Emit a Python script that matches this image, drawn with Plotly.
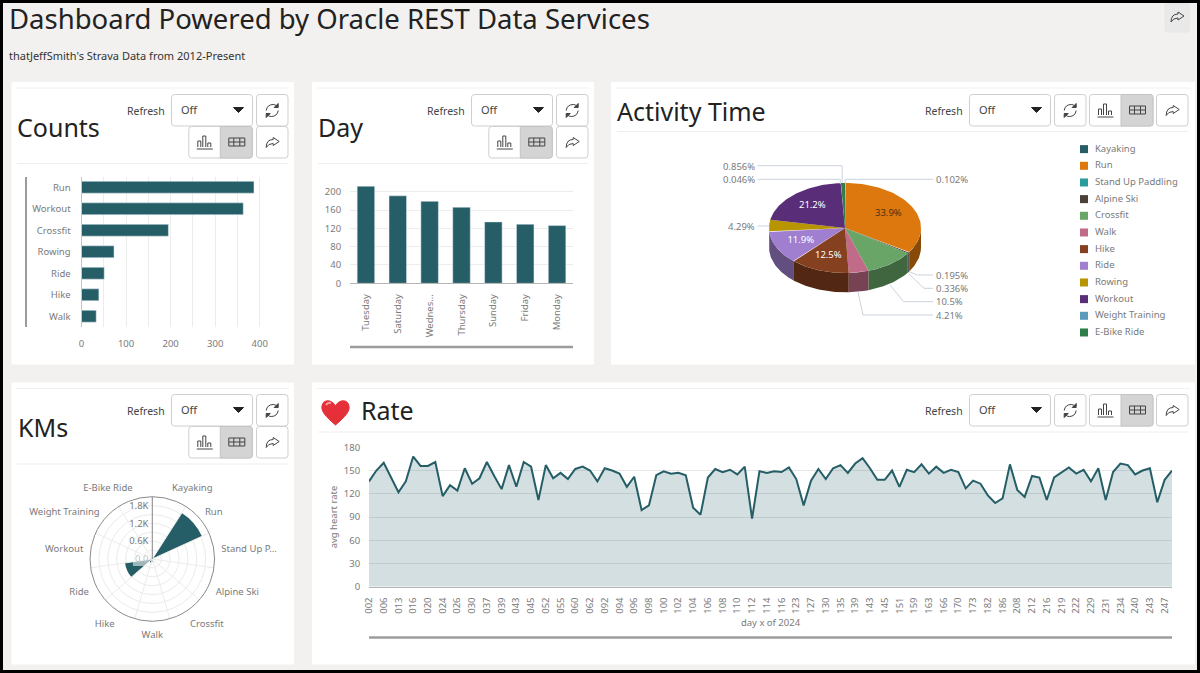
import numpy as np
import plotly.graph_objects as go

FONT = "Noto Sans"
TEAL = "#255e66"
GREY = "#7a7a7a"

# counts per activity
count_cats = ["Run", "Workout", "Crossfit", "Rowing", "Ride", "Hike", "Walk"]
count_vals = [387, 363, 195, 73, 51, 39, 33]

# activities per weekday
day_cats = ["Tuesday", "Saturday", "Wednes...", "Thursday", "Sunday", "Friday", "Monday"]
day_vals = [212, 191, 179, 166, 134, 129, 126]

# activity time share
pie_names = ["Kayaking", "Run", "Stand Up Paddling", "Alpine Ski", "Crossfit", "Walk", "Hike",
             "Ride", "Rowing", "Workout", "Weight Training", "E-Bike Ride"]
pie_pct = [0.102, 33.9, 0.195, 0.336, 10.5, 4.21, 12.5, 11.9, 4.29, 21.2, 0.046, 0.856]
pie_colors = ["#255e66", "#dc780d", "#2b9c9c", "#4d4036", "#68a567", "#c06c88", "#85401f",
              "#a07fd0", "#b89500", "#5a2d78", "#5a9abb", "#2e7d4a"]

# kms per activity
km_names = ["Kayaking", "Run", "Stand Up P...", "Alpine Ski", "Crossfit", "Walk", "Hike",
            "Ride", "Workout", "Weight Training", "E-Bike Ride"]
km_vals = [30, 1840, 15, 40, 10, 90, 130, 930, 20, 5, 45]

# heart rate per day of 2024
rate_days = ["002", "004", "006", "010", "013", "015", "016", "018", "020", "022", "024", "025",
             "026", "028", "030", "034", "037", "038", "039", "041", "043", "044", "045", "050",
             "052", "054", "055", "058", "060", "061", "062", "064", "092", "093", "094", "095",
             "096", "097", "098", "099", "100", "101", "102", "103", "104", "105", "106", "107",
             "108", "109", "110", "111", "112", "113", "114", "115", "116", "118", "123", "125",
             "127", "128", "130", "132", "135", "137", "139", "141", "143", "144", "145", "148",
             "151", "155", "159", "161", "163", "165", "166", "168", "170", "171", "173", "178",
             "182", "184", "186", "197", "208", "210", "212", "214", "216", "217", "219", "220",
             "222", "225", "229", "230", "231", "232", "234", "237", "240", "241", "243", "245",
             "247", "248"]
rate_vals = [136, 150, 160, 142, 122, 136, 168, 156, 156, 161, 117, 131, 124, 153, 133, 140, 161,
             143, 126, 157, 129, 161, 155, 112, 157, 140, 147, 139, 152, 155, 150, 136, 153, 150,
             146, 129, 142, 99, 105, 144, 149, 146, 147, 144, 102, 93, 141, 152, 148, 151, 145,
             155, 88, 149, 147, 149, 148, 154, 139, 105, 137, 152, 139, 153, 157, 147, 159, 166,
             153, 138, 138, 150, 129, 151, 148, 158, 146, 155, 147, 151, 148, 127, 137, 133, 118,
             108, 114, 158, 125, 116, 143, 141, 112, 141, 148, 154, 146, 151, 136, 153, 112, 148,
             159, 157, 145, 150, 153, 109, 138, 150]


def dom_x(x0, x1):
    return [x0 / 1200, x1 / 1200]


def dom_y(y0, y1):
    return [1 - y1 / 673, 1 - y0 / 673]


def darken(c, f=0.62):
    r, g, b = int(c[1:3], 16), int(c[3:5], 16), int(c[5:7], 16)
    return f"rgb({int(r * f)},{int(g * f)},{int(b * f)})"


fig = go.Figure()

# counts
fig.add_trace(go.Bar(x=count_vals, y=count_cats, orientation="h", marker_color=TEAL,
                     xaxis="x", yaxis="y", hoverinfo="skip"))
# day
fig.add_trace(go.Bar(x=day_cats, y=day_vals, marker_color=TEAL, xaxis="x2", yaxis="y2", hoverinfo="skip"))
# rate
fig.add_trace(go.Scatter(x=rate_days, y=rate_vals, mode="lines", line=dict(color=TEAL, width=2),
                         fill="tozeroy", fillcolor="rgba(37,94,102,0.2)", xaxis="x3", yaxis="y3",
                         hoverinfo="skip"))

# pie is drawn on its own axes, one unit = rx / ry of the ellipse
PIE_CX, PIE_CY, PIE_RX, PIE_RY, PIE_DEPTH = 845, 228, 76, 45, 0.43
edges = np.cumsum([0] + pie_pct) / sum(pie_pct) * 2 * np.pi

for i, c in enumerate(pie_colors):
    lo, hi = max(edges[i], np.pi / 2), min(edges[i + 1], 3 * np.pi / 2)
    if hi <= lo:
        continue
    a = np.linspace(lo, hi, 40)
    fig.add_trace(go.Scatter(x=np.r_[np.sin(a), np.sin(a[::-1])],
                             y=np.r_[np.cos(a), np.cos(a[::-1]) - PIE_DEPTH],
                             mode="lines", line=dict(width=0), fill="toself", fillcolor=darken(c),
                             xaxis="x4", yaxis="y4", hoverinfo="skip"))
for i, c in enumerate(pie_colors):
    a = np.linspace(edges[i], edges[i + 1], 60)
    fig.add_trace(go.Scatter(x=np.r_[0, np.sin(a), 0], y=np.r_[0, np.cos(a), 0],
                             mode="lines", line=dict(width=0), fill="toself", fillcolor=c,
                             xaxis="x4", yaxis="y4", hoverinfo="skip"))

inside = [i for i, p in enumerate(pie_pct) if p > 11]
mids = (edges[:-1] + edges[1:]) / 2
fig.add_trace(go.Scatter(x=[0.65 * np.sin(mids[i]) for i in inside],
                         y=[0.65 * np.cos(mids[i]) for i in inside],
                         text=[f"{pie_pct[i]:.3g}%" for i in inside],
                         mode="text", textfont=dict(family=FONT, size=9.5,
                         color=["#4a3210" if pie_names[i] == "Run" else "#ffffff" for i in inside]),
                         xaxis="x4", yaxis="y4", hoverinfo="skip"))

# legend of the pie
fig.add_trace(go.Scatter(x=[0] * len(pie_names), y=pie_names, text=["  " + n for n in pie_names],
                         mode="markers+text", textposition="middle right",
                         marker=dict(symbol="square", size=8, color=pie_colors),
                         textfont=dict(family=FONT, size=9.5, color=GREY), cliponaxis=False,
                         xaxis="x5", yaxis="y5", hoverinfo="skip"))

# kms
step = 360 / len(km_names)
km_theta = [step * (i + 0.5) for i in range(len(km_names))]
for i in range(len(km_names)):
    fig.add_trace(go.Scatterpolar(r=[0, 2100], theta=[step * i, step * i], mode="lines",
                                  line=dict(color="#ebebeb", width=1), hoverinfo="skip"))
fig.add_trace(go.Barpolar(r=km_vals, theta=km_theta, width=[step] * len(km_names),
                          marker_color=TEAL, marker_line_width=0, hoverinfo="skip"))

shapes = []
annots = []


def txt(x, y, s, size=9.5, color=GREY, anchor="left"):
    annots.append(dict(x=x, y=y, xref="x9", yref="y9", text=s, showarrow=False, xanchor=anchor,
                       yanchor="middle", borderpad=0, borderwidth=0,
                       font=dict(family=FONT, size=size, color=color)))


def path(d, line="#555555", fill="rgba(0,0,0,0)", width=1):
    shapes.append(dict(type="path", xref="x9", yref="y9", path=d, fillcolor=fill,
                       line=dict(color=line, width=width), layer="above"))


def rrect(x0, y0, x1, y1, r=3):
    return (f"M{x0+r},{y0} L{x1-r},{y0} Q{x1},{y0} {x1},{y0+r} L{x1},{y1-r} Q{x1},{y1} {x1-r},{y1} "
            f"L{x0+r},{y1} Q{x0},{y1} {x0},{y1-r} L{x0},{y0+r} Q{x0},{y0} {x0+r},{y0} Z")


def refresh_icon(cx, cy):
    path(f"M{cx-6},{cy} Q{cx-5},{cy-6} {cx+1},{cy-6} Q{cx+4},{cy-6} {cx+5},{cy-4}", line="#444444")
    path(f"M{cx+6},{cy-7} L{cx+6},{cy-3} L{cx+2},{cy-3} Z", line="#444444", fill="#444444")
    path(f"M{cx+6},{cy} Q{cx+5},{cy+6} {cx-1},{cy+6} Q{cx-4},{cy+6} {cx-5},{cy+4}", line="#444444")
    path(f"M{cx-6},{cy+7} L{cx-6},{cy+3} L{cx-2},{cy+3} Z", line="#444444", fill="#444444")


def share_icon(cx, cy):
    path(f"M{cx+1},{cy-5} L{cx+7},{cy-1} L{cx+1},{cy+3} L{cx+1},{cy+1} Q{cx-4},{cy+1} {cx-6},{cy+5} "
         f"Q{cx-6},{cy-3} {cx+1},{cy-3} Z", line="#444444")


def bars_icon(cx, cy):
    path(f"M{cx-8},{cy+7} L{cx+8},{cy+7} M{cx-7},{cy+5} L{cx-7},{cy-1} L{cx-4},{cy-1} L{cx-4},{cy+5} "
         f"M{cx-2},{cy+5} L{cx-2},{cy-6} L{cx+1},{cy-6} L{cx+1},{cy+5} "
         f"M{cx+3},{cy+5} L{cx+3},{cy+1} L{cx+6},{cy+1} L{cx+6},{cy+5}", line="#444444")


def table_icon(cx, cy):
    path(f"M{cx-8},{cy-4} L{cx+8},{cy-4} L{cx+8},{cy+4} L{cx-8},{cy+4} Z M{cx-8},{cy} L{cx+8},{cy} "
         f"M{cx-3},{cy-4} L{cx-3},{cy+4} M{cx+3},{cy-4} L{cx+3},{cy+4}", line="#444444")


def select_box(x, y):
    # x is the left side of the "Off" select, y its top
    txt(x - 6.5, y + 16, "Refresh", size=10.5, color="#444444", anchor="right")
    path(rrect(x, y, x + 81, y + 31.5), line="#cfcfcf", fill="#ffffff")
    txt(x + 9, y + 15, "Off", size=11, color="#444444")
    path(f"M{x+62},{y+13} L{x+72},{y+13} L{x+67},{y+18} Z", line="#222222", fill="#222222")
    path(rrect(x + 85, y, x + 116.5, y + 31.5), line="#cfcfcf", fill="#ffffff")
    refresh_icon(x + 100.7, y + 16)


def toggle_group(x, y, xshare):
    # x is the left side of the group, y its top
    path(rrect(x, y, x + 63.5, y + 31.5), line="#cfcfcf", fill="#ffffff")
    path(f"M{x+31.5},{y} L{x+61},{y} Q{x+63.5},{y} {x+63.5},{y+3} L{x+63.5},{y+29} Q{x+63.5},{y+31.5} {x+61},{y+31.5} "
         f"L{x+31.5},{y+31.5} Z", line="#c4c4c4", fill="#d4d4d4")
    bars_icon(x + 16, y + 15.5)
    table_icon(x + 48, y + 15.5)
    path(rrect(xshare, y, xshare + 31.5, y + 31.5), line="#cfcfcf", fill="#ffffff")
    share_icon(xshare + 15.7, y + 16)


# page border and panels
panels = [(11.5, 82, 294, 364.5), (312, 82, 594, 364.5), (611, 82, 1195, 364.5),
          (11.5, 382.5, 294, 664.5), (312, 382.5, 1195, 664.5)]
for x0, y0, x1, y1 in panels:
    shapes.append(dict(type="rect", xref="paper", yref="paper", x0=x0 / 1200, x1=x1 / 1200,
                       y0=1 - y0 / 673, y1=1 - y1 / 673, fillcolor="#ffffff", line_width=0, layer="below"))
    shapes.append(dict(type="line", xref="paper", yref="paper", x0=(x0 + 5) / 1200, x1=(x1 - 5) / 1200,
                       y0=1 - (y0 + 6) / 673, y1=1 - (y0 + 6) / 673, line=dict(color="#f0f0f0", width=1), layer="below"))

for x0, x1, y in [(17, 288, 163.5), (318, 588, 163.5), (617, 1188, 131.5), (17, 288, 464), (318, 1188, 432)]:
    path(f"M{x0},{y} L{x1},{y}", line="#efefef")

# titles
txt(9, 18, "Dashboard Powered by Oracle REST Data Services", size=27.5, color="#222222")
txt(9, 55, "thatJeffSmith's Strava Data from 2012-Present", size=11, color="#333333")
txt(17, 127, "Counts", size=25, color="#222222")
txt(318, 127, "Day", size=25, color="#222222")
txt(617, 111, "Activity Time", size=25, color="#222222")
txt(18, 427, "KMs", size=25, color="#222222")
txt(361, 410, "Rate", size=25, color="#222222")

# heart
path("M335.5,425 C325,416 321,411 322,406 C323,399 332,399 335.5,406 C339,399 348,399 349,406 "
     "C350,411 346,416 335.5,425 Z", line="#e5303a", fill="#e5303a")
path("M326,405 Q328,402 331,403", line="#f7a0a0", width=2)

# header controls
select_box(171.5, 94.5)
toggle_group(188.8, 126.5, 256.5)
select_box(471.5, 94.5)
toggle_group(488.8, 126.5, 556.5)
select_box(969.5, 94.5)
toggle_group(1089.5, 94.5, 1156.5)
select_box(171.5, 394.5)
toggle_group(188.8, 426.5, 256.5)
select_box(969.5, 394.5)
toggle_group(1089.5, 394.5, 1156.5)

# button top right
path(rrect(1165, 3, 1189, 32, 2), line="#e6e6e6", fill="#e9e9e9")
share_icon(1177, 17)

# scroll bars of the charts
path("M26,177 L26,327", line="#9c9c9c", width=2)
path("M350,347 L573,347", line="#9c9c9c", width=2.5)
path("M369,637.5 L1172,637.5", line="#9c9c9c", width=2.5)

# pie leader lines and outer labels
leaders = ["M757.5,165.7 L842.2,165.7 L842.2,183", "M757.5,179.3 L840.3,179.3 L840.3,184",
           "M933,179.3 L845.2,179.3 L845.2,183", "M757.5,226 L769,226",
           "M933,275 L917,275 L909,271.5", "M933,288.3 L924,288.3 L909,274",
           "M933,301.7 L903.6,301.7 L890,285", "M933,315 L863,315 L858,292"]
for d in leaders:
    path(d, line="#ccd2dc")
for name, x, y, a in [("E-Bike Ride", 755, 166, "right"), ("Weight Training", 755, 179.5, "right"),
                      ("Rowing", 755, 226.5, "right"), ("Kayaking", 935.5, 179.5, "left"),
                      ("Stand Up Paddling", 935.5, 275, "left"), ("Alpine Ski", 935.5, 288.5, "left"),
                      ("Crossfit", 935.5, 301.5, "left"), ("Walk", 935.5, 315, "left")]:
    txt(x, y, f"{pie_pct[pie_names.index(name)]:.3g}%", anchor=a)

# label background over the polar bars
shapes.append(dict(type="rect", xref="x9", yref="y9", x0=133, x1=150, y0=555, y1=566,
                   fillcolor="rgba(255,255,255,0.55)", line_width=0, layer="above"))

tickfont = dict(family=FONT, size=9.5, color=GREY)
pie_x = [(611 - PIE_CX) / PIE_RX, (1000 - PIE_CX) / PIE_RX]
pie_y = [(PIE_CY - 360) / PIE_RY, (PIE_CY - 140) / PIE_RY]
hidden = dict(visible=False, showgrid=False, zeroline=False, fixedrange=True)

fig.update_layout(
    width=1200, height=673, margin=dict(l=0, r=0, t=0, b=0, pad=0, autoexpand=False), showlegend=False,
    paper_bgcolor="#f2f1ef", plot_bgcolor="rgba(0,0,0,0)", font=dict(family=FONT),
    bargap=0.45,
    shapes=shapes, annotations=annots,
    xaxis=dict(domain=dom_x(81.5, 270), range=[0, 423], anchor="y", dtick=100, tickfont=tickfont,
               showgrid=True, gridcolor="#ececec", zeroline=False, ticks="outside", ticklen=8,
               tickcolor="rgba(0,0,0,0)", minor=dict(dtick=50, showgrid=True, gridcolor="#ececec")),
    yaxis=dict(domain=dom_y(176.5, 327), autorange="reversed", anchor="x", tickfont=tickfont, showline=True,
               linecolor="#c4c4c4", ticks="outside", ticklen=8, tickcolor="rgba(0,0,0,0)"),
    xaxis2=dict(domain=dom_x(350, 573), anchor="y2", tickfont=tickfont, tickangle=-90, showline=True,
                linecolor="#b5b5b5", ticks="outside", ticklen=6, tickcolor="rgba(0,0,0,0)"),
    yaxis2=dict(domain=dom_y(180, 283.3), range=[0, 225.5], anchor="x2", dtick=40, tickfont=tickfont,
                gridcolor="#ececec", zeroline=False, ticks="outside", ticklen=6, tickcolor="rgba(0,0,0,0)"),
    xaxis3=dict(domain=dom_x(369, 1172), anchor="y3", tickmode="array", tickvals=rate_days[::2], range=[0, 109],
                tickfont=tickfont, tickangle=-90, showline=True, linecolor="#b5b5b5", ticks="outside", ticklen=6,
                tickcolor="rgba(0,0,0,0)", title=dict(text="day x of 2024", font=tickfont, standoff=6)),
    yaxis3=dict(domain=dom_y(447.3, 586.7), range=[0, 180], anchor="x3", dtick=30, tickfont=tickfont,
                gridcolor="#e6e6e6", zeroline=False, ticks="outside", ticklen=6, tickcolor="rgba(0,0,0,0)",
                title=dict(text="avg heart rate", font=tickfont, standoff=4)),
    xaxis4=dict(domain=dom_x(611, 1000), range=pie_x, anchor="y4", **hidden),
    yaxis4=dict(domain=dom_y(140, 360), range=pie_y, anchor="x4", **hidden),
    xaxis5=dict(domain=dom_x(1084, 1190), range=[0, 1], anchor="y5", **hidden),
    yaxis5=dict(domain=dom_y(140.8, 340.8), range=[11.5, -0.5], anchor="x5", type="category", **hidden),
    xaxis9=dict(domain=[0, 1], range=[0, 1200], anchor="y9", **hidden),
    yaxis9=dict(domain=[0, 1], range=[673, 0], anchor="x9", **hidden),
    polar=dict(
        domain=dict(x=dom_x(90, 214.6), y=dom_y(496.7, 621.3)), bgcolor="rgba(0,0,0,0)",
        angularaxis=dict(direction="clockwise", rotation=90, tickmode="array", tickvals=km_theta,
                         ticktext=km_names, tickfont=tickfont, showgrid=False, linecolor="#8a8a8a",
                         ticks="outside", ticklen=5, tickcolor="rgba(0,0,0,0)"),
        radialaxis=dict(range=[0, 2100], angle=90, tickangle=90, tickmode="array",
                        tickvals=[0, 300, 600, 900, 1200, 1500, 1800],
                        ticktext=["0.0", "", "0.6K", "", "1.2K", "", "1.8K"], tickfont=tickfont,
                        gridcolor="#ebebeb", linecolor="#8a8a8a", side="counterclockwise", ticks=""),
    ),
)

# page frame on top
fig.add_shape(type="rect", xref="paper", yref="paper", x0=0, x1=1, y0=0, y1=1,
              line=dict(color="#000000", width=6), layer="above")

# no body margin, the page is exactly the figure
fig.write_html("out.html", config={"displayModeBar": False},
               post_script="document.body.style.margin='0';document.body.style.overflow='hidden';")
